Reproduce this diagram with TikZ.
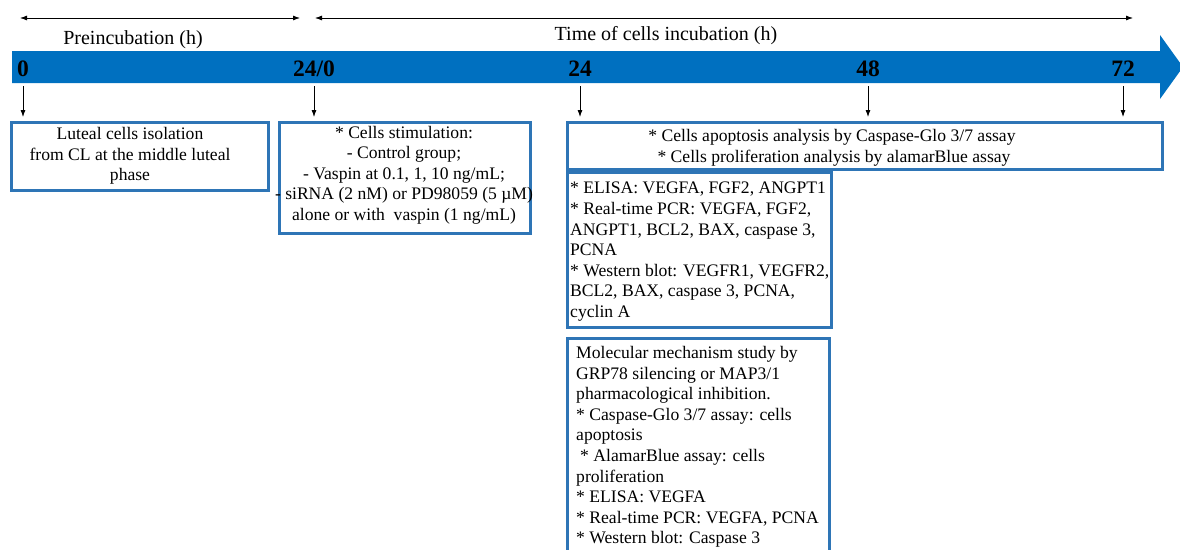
\documentclass[tikz,border=0pt]{standalone}
\usepackage{fontspec}
\setmainfont{Liberation Serif}
\usetikzlibrary{arrows.meta}

\definecolor{bandblue}{HTML}{0070C0}
\definecolor{boxblue}{HTML}{2E75B6}

\begin{document}
\begin{tikzpicture}[x=1pt,y=-1pt,
        boxframe/.style={draw=boxblue, line width=2.5pt, anchor=north west, inner sep=0pt},
        boxtext/.style={font=\fontsize{17.6}{20.6}\selectfont, inner sep=0pt},
        hours/.style={font=\fontsize{23.5}{28}\selectfont\bfseries, inner sep=0pt},
        header/.style={font=\fontsize{20}{24}\selectfont, inner sep=0pt},
        span/.style={line width=0.8pt, {Latex[length=7pt,width=5pt]}-{Latex[length=7pt,width=5pt]}},
        down/.style={line width=0.8pt, -{Latex[length=7pt,width=5pt]}, shorten >=4pt}]
    \clip (0,0) rectangle (1180,549);

    % time axis
    \fill[bandblue] (12,51) -- (1160,51) -- (1160,35) -- (1183,67) -- (1160,99) -- (1160,83) -- (12,83) -- cycle;
    \coordinate (bandbot) at (0,86);

    \node[hours] (t0) at (23,69) {0};
    \node[hours] (t24a) at (314,69) {24/0};
    \node[hours] (t24) at (580,69) {24};
    \node[hours] (t48) at (868,69) {48};
    \node[hours] (t72) at (1123,69) {72};

    % periods
    \coordinate (preL) at (20,18);
    \coordinate (preR) at (300,18);
    \coordinate (incL) at (315,18);
    \coordinate (incR) at (1133,18);
    \draw[span] (preL) -- (preR);
    \draw[span] (incL) -- (incR);
    \node[header] (prelab) at (133,40) {Preincubation (h)};
    \node[header] (inclab) at (666,36) {Time of cells incubation (h)};

    % boxes
    \node[boxframe, minimum width=257pt, minimum height=68pt] (lutbox) at (10,121) {};
    \node[boxframe, minimum width=251pt, minimum height=111pt] (stimbox) at (278,121) {};
    \node[boxframe, minimum width=595pt, minimum height=47pt] (apopbox) at (566,121) {};
    \node[boxframe, minimum width=264pt, minimum height=155pt] (assaybox) at (566,171) {};
    \node[boxframe, minimum width=262pt, minimum height=240pt] (mechbox) at (566,337) {};

    \node[boxtext, align=center] (luttxt) at (130,156) {Luteal cells isolation\\from CL at the middle luteal\\phase};
    \node[boxtext, align=center] (stimtxt) at (404,175) {* Cells stimulation:\\- Control group;\\- Vaspin at 0.1, 1, 10 ng/mL;\\- siRNA (2 nM) or PD98059 (5 µM)\\alone or with\ \ vaspin (1 ng/mL)};
    \node[boxtext, align=center] (apoptxt) at (832,148) {* Cells apoptosis analysis by Caspase-Glo 3/7 assay\\\hspace*{4pt}* Cells proliferation analysis by alamarBlue assay};
    \node[boxtext, align=left, anchor=north west] (assaytxt) at (570,182) {* ELISA: VEGFA, FGF2, ANGPT1\\* Real-time PCR: VEGFA, FGF2,\\ANGPT1, BCL2, BAX, caspase 3,\\PCNA\\* Western blot: VEGFR1, VEGFR2,\\BCL2, BAX, caspase 3, PCNA,\\cyclin A};
    \node[boxtext, align=left, anchor=north west] (mechtxt) at (576,346) {Molecular mechanism study by\\GRP78 silencing or MAP3/1\\pharmacological inhibition.\\* Caspase-Glo 3/7 assay: cells\\apoptosis\\\hspace*{4pt}* AlamarBlue assay: cells\\proliferation\\* ELISA: VEGFA\\* Real-time PCR: VEGFA, PCNA\\* Western blot: Caspase 3};

    % time points to boxes
    \draw[down] (t0 |- bandbot) -- (t0 |- lutbox.north);
    \draw[down] (t24a |- bandbot) -- (t24a |- stimbox.north);
    \draw[down] (t24 |- bandbot) -- (t24 |- apopbox.north);
    \draw[down] (t48 |- bandbot) -- (t48 |- apopbox.north);
    \draw[down] (t72 |- bandbot) -- (t72 |- apopbox.north);
\end{tikzpicture}
\end{document}
